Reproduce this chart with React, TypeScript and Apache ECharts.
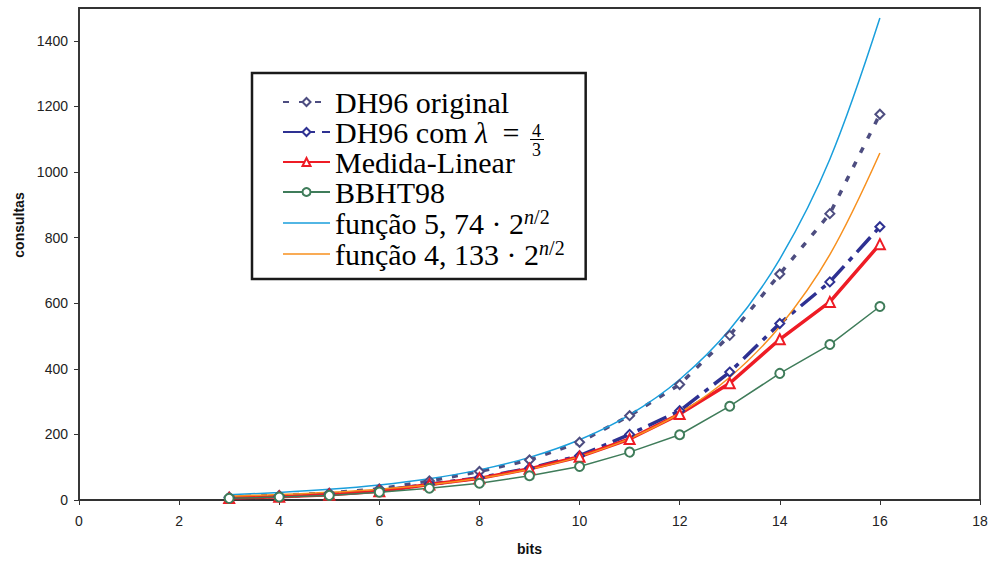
import React, { useEffect, useRef } from 'react';
import * as echarts from 'echarts';

const bits = [3, 4, 5, 6, 7, 8, 9, 10, 11, 12, 13, 14, 15, 16];
const dh96Original = [9, 14, 21, 34, 58, 87, 122, 176, 257, 352, 502, 689, 873, 1176];
const dh96Lambda = [7, 11, 17, 28, 48, 68, 97, 135, 200, 272, 390, 538, 665, 833];
const medidaLinear = [6, 10, 16, 27, 47, 66, 95, 132, 186, 262, 356, 490, 604, 780];
const bbht98 = [5, 9, 14, 24, 36, 51, 74, 102, 146, 199, 286, 386, 474, 590];
const func574 = [16.2, 23.0, 32.5, 45.9, 64.9, 91.8, 129.9, 183.7, 259.8, 367.4, 519.5, 734.7, 1039.0, 1469.4];
const func4133 = [11.7, 16.5, 23.4, 33.1, 46.8, 66.1, 93.5, 132.3, 187.0, 264.5, 374.1, 529.0, 748.2, 1058.0];
const xTicks = [0, 2, 4, 6, 8, 10, 12, 14, 16, 18];
const yTicks = [0, 200, 400, 600, 800, 1000, 1200, 1400];

const NAME_ORIG = 'DH96 original';
const NAME_LAMBDA = 'DH96 com λ = 4/3';
const NAME_ML = 'Medida-Linear';
const NAME_BBHT = 'BBHT98';
const NAME_F1 = 'função 5,74 · 2^(n/2)';
const NAME_F2 = 'função 4,133 · 2^(n/2)';

const pairs = (ys: number[]) => bits.map((b, i) => [b, ys[i]]);

const SERIF = '"Liberation Serif", "Times New Roman", serif';
const SANS = '"Liberation Sans", Arial, sans-serif';
const LINE_ICON = 'path://M0,0L0.01,0L0,0ZM0,4.25H47V5.75H0ZM0,10L0.01,10L0,10Z';

export default function App() {
  const ref = useRef<HTMLDivElement>(null);
  useEffect(() => {
    if (!ref.current) return;
    const chart = echarts.init(ref.current, null, { renderer: 'svg' });
    const legendText = (name: string) => {
      if (name === NAME_LAMBDA) return '{t|DH96 com }{i|λ}{eq|=}{fr| }';
      if (name === NAME_F1) return '{t|função 5, 74 · 2}{si|n}{s|/2}';
      if (name === NAME_F2) return '{t|função 4, 133 · 2}{si|n}{s|/2}';
      return '{t|' + name + '}';
    };
    chart.setOption({
      animation: false,
      backgroundColor: '#fff',
      grid: {
        left: 79,
        right: 12,
        top: 8,
        bottom: 63,
        show: true,
        borderColor: '#333',
        borderWidth: 1.8,
      },
      xAxis: {
        type: 'value',
        min: 0,
        max: 18,
        interval: 2,
        name: 'bits',
        nameLocation: 'middle',
        nameGap: 42,
        nameTextStyle: { fontFamily: SANS, fontSize: 14, fontWeight: 'bold', color: '#111' },
        splitLine: { show: false },
        axisLine: { lineStyle: { color: '#333', width: 1.5 } },
        axisTick: { show: true, length: 5, lineStyle: { color: '#333' }, customValues: xTicks },
        axisLabel: { fontFamily: SANS, fontSize: 14, color: '#222', margin: 14, customValues: xTicks, formatter: (v: number) => String(v) },
      },
      yAxis: {
        type: 'value',
        min: 0,
        max: 1500,
        interval: 200,
        name: 'consultas',
        nameLocation: 'middle',
        nameGap: 52,
        nameTextStyle: {
          fontFamily: SANS,
          fontSize: 14,
          fontWeight: 'bold',
          color: '#111',
          padding: [0, 0, 0, 58],
        },
        splitLine: { show: false },
        axisLine: { show: true, lineStyle: { color: '#333', width: 1.5 } },
        axisTick: { show: true, length: 5, lineStyle: { color: '#333' }, customValues: yTicks },
        axisLabel: { fontFamily: SANS, fontSize: 14, color: '#222', margin: 11, customValues: yTicks, formatter: (v: number) => String(v) },
      },
      legend: {
        orient: 'vertical',
        left: 252,
        top: 73,
        itemWidth: 47,
        itemHeight: 10,
        itemGap: 0,
        padding: [14, 21, 10, 30],
        backgroundColor: '#fff',
        borderColor: '#1a1a1a',
        borderWidth: 2.5,
        selectedMode: false,
        data: [
          NAME_ORIG,
          NAME_LAMBDA,
          NAME_ML,
          NAME_BBHT,
          { name: NAME_F1, icon: LINE_ICON },
          { name: NAME_F2, icon: LINE_ICON },
        ],
        formatter: legendText,
        textStyle: {
          rich: {
            t: { fontFamily: SERIF, fontSize: 30, lineHeight: 32, color: '#000' },
            i: { fontFamily: SERIF, fontSize: 30, lineHeight: 32, color: '#000', fontStyle: 'italic' },
            eq: { fontFamily: SERIF, fontSize: 30, lineHeight: 32, color: '#000', width: 46, align: 'center' },
            fr: { fontFamily: SERIF, fontSize: 30, lineHeight: 32, width: 14 },
            si: { fontFamily: SERIF, fontSize: 20, lineHeight: 19, color: '#000', fontStyle: 'italic', verticalAlign: 'top' },
            s: { fontFamily: SERIF, fontSize: 20, lineHeight: 19, color: '#000', verticalAlign: 'top' },
          },
        },
      },
      graphic: [
        { type: 'text', left: 532, top: 122, z: 100, style: { text: '4', font: '18px "Liberation Serif"', fill: '#000' } },
        { type: 'line', z: 100, shape: { x1: 530, y1: 139.5, x2: 544, y2: 139.5 }, style: { stroke: '#000', lineWidth: 1 } },
        { type: 'text', left: 532, top: 141, z: 100, style: { text: '3', font: '18px "Liberation Serif"', fill: '#000' } },
      ],
      series: [
        {
          name: NAME_ORIG,
          type: 'line',
          data: pairs(dh96Original),
          symbol: 'emptyDiamond',
          symbolSize: 9,
          color: '#4d4d80',
          lineStyle: { width: 3.5, type: [6, 10], color: '#4d4d80' },
          itemStyle: { borderWidth: 1.5, color: '#4d4d80' },
        },
        {
          name: NAME_LAMBDA,
          type: 'line',
          data: pairs(dh96Lambda),
          symbol: 'emptyDiamond',
          symbolSize: 9,
          color: '#2e3192',
          lineStyle: { width: 3.5, type: [20, 7, 5, 7], color: '#2e3192' },
          itemStyle: { borderWidth: 1.5, color: '#2e3192' },
        },
        {
          name: NAME_ML,
          type: 'line',
          data: pairs(medidaLinear),
          symbol: 'emptyTriangle',
          symbolSize: 10,
          color: '#ee1c25',
          lineStyle: { width: 3.5, color: '#ee1c25' },
          itemStyle: { borderWidth: 1.5, color: '#ee1c25' },
        },
        {
          name: NAME_BBHT,
          type: 'line',
          data: pairs(bbht98),
          symbol: 'emptyCircle',
          symbolSize: 9,
          color: '#3f7c5a',
          lineStyle: { width: 1.5, color: '#3f7c5a' },
          itemStyle: { borderWidth: 1.3, color: '#3f7c5a' },
        },
        {
          name: NAME_F1,
          type: 'line',
          data: pairs(func574),
          smooth: 0.35,
          showSymbol: false,
          symbol: 'none',
          color: '#1a9fdc',
          lineStyle: { width: 1.5, color: '#1a9fdc' },
        },
        {
          name: NAME_F2,
          type: 'line',
          data: pairs(func4133),
          smooth: 0.35,
          showSymbol: false,
          symbol: 'none',
          color: '#f7901e',
          lineStyle: { width: 1.5, color: '#f7901e' },
        },
      ],
    });
    return () => chart.dispose();
  }, []);
  return <div ref={ref} style={{ width: 992, height: 563, position: 'absolute', left: 0, top: 0 }} />;
}
